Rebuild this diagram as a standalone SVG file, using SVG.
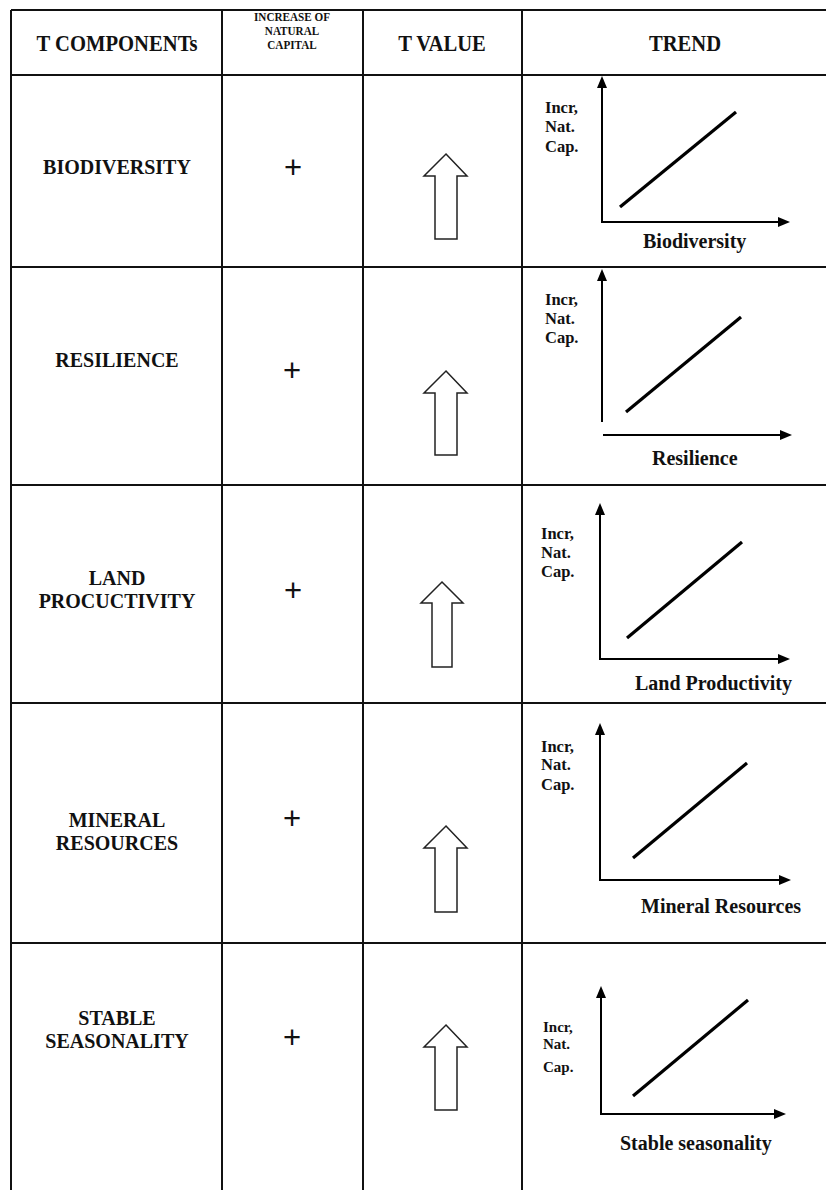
<svg xmlns="http://www.w3.org/2000/svg" width="826" height="1190" viewBox="0 0 826 1190">
  <style>
    .grid { stroke: #111; stroke-width: 2; fill: none; }
    .head { font-family: "Liberation Serif", "Times New Roman", serif; font-weight: bold; font-size: 24px; fill: #111; text-anchor: middle; }
    .head-sm { font-family: "Liberation Serif", "Times New Roman", serif; font-weight: bold; font-size: 13px; fill: #111; text-anchor: middle; }
    .comp { font-family: "Liberation Serif", "Times New Roman", serif; font-weight: bold; font-size: 20px; fill: #111; text-anchor: middle; }
    .plus { font-family: "Liberation Sans", Arial, sans-serif; font-size: 31px; fill: #111; text-anchor: middle; }
    .tarrow { fill: #fff; stroke: #222; stroke-width: 1.5; stroke-linejoin: miter; }
    .axis { stroke: #000; stroke-width: 2; fill: none; }
    .tip { fill: #000; }
    .trend { stroke: #000; stroke-width: 3.2; stroke-linecap: butt; }
    .ylab { font-family: "Liberation Serif", "Times New Roman", serif; font-weight: bold; font-size: 16.5px; fill: #111; }
    .ylab5 { font-family: "Liberation Serif", "Times New Roman", serif; font-weight: bold; font-size: 15px; fill: #111; }
    .xlab { font-family: "Liberation Serif", "Times New Roman", serif; font-weight: bold; font-size: 20px; fill: #111; }
  </style>

  <rect width="826" height="1190" fill="#fff"/>

  <!-- table grid -->
  <g id="table-grid" class="grid">
    <line x1="11" y1="10" x2="826" y2="10"/>
    <line x1="11" y1="75" x2="826" y2="75"/>
    <line x1="11" y1="267" x2="826" y2="267"/>
    <line x1="11" y1="485" x2="826" y2="485"/>
    <line x1="11" y1="703" x2="826" y2="703"/>
    <line x1="11" y1="943" x2="826" y2="943"/>
    <line x1="11" y1="10" x2="11" y2="1190"/>
    <line x1="222" y1="10" x2="222" y2="1190"/>
    <line x1="363" y1="10" x2="363" y2="1190"/>
    <line x1="522" y1="10" x2="522" y2="1190"/>
  </g>

  <!-- header row (condensed heading type) -->
  <g id="header">
    <text class="head" transform="translate(117,51) scale(0.86,1)">T COMPONENTs</text>
    <text class="head-sm" transform="translate(292,21) scale(0.86,1)">INCREASE OF</text>
    <text class="head-sm" transform="translate(292,35) scale(0.86,1)">NATURAL</text>
    <text class="head-sm" transform="translate(292,49) scale(0.86,1)">CAPITAL</text>
    <text class="head" transform="translate(442,51) scale(0.86,1)">T VALUE</text>
    <text class="head" transform="translate(685,51) scale(0.86,1)">TREND</text>
  </g>

  <!-- row 1: biodiversity -->
  <g id="row-biodiversity">
    <text class="comp" x="117" y="174">BIODIVERSITY</text>
    <text class="plus" x="293" y="178">+</text>
    <path class="tarrow" d="M446,154 L467,176 L457,176 L457,239 L435,239 L435,176 L424,176 Z"/>
    <g class="chart">
      <polyline class="axis" points="602,87 602,222 779,222"/>
      <path class="tip" d="M597,88 L602,76 L607,88 Z"/>
      <path class="tip" d="M778,217 L790,222 L778,227 Z"/>
      <line class="trend" x1="620" y1="207" x2="736" y2="112"/>
      <text class="ylab" x="545" y="113">Incr,</text>
      <text class="ylab" x="545" y="132">Nat.</text>
      <text class="ylab" x="545" y="152">Cap.</text>
      <text class="xlab" x="643" y="248">Biodiversity</text>
    </g>
  </g>

  <!-- row 2: resilience -->
  <g id="row-resilience">
    <text class="comp" x="117" y="367">RESILIENCE</text>
    <text class="plus" x="292" y="381">+</text>
    <path class="tarrow" d="M446,371 L467,393 L457,393 L457,455 L435,455 L435,393 L424,393 Z"/>
    <g class="chart">
      <line class="axis" x1="602" y1="422" x2="602" y2="279"/>
      <path class="tip" d="M597,281 L602,269 L607,281 Z"/>
      <line class="axis" x1="603" y1="435" x2="781" y2="435"/>
      <path class="tip" d="M780,430 L792,435 L780,440 Z"/>
      <line class="trend" x1="626" y1="412" x2="741" y2="317"/>
      <text class="ylab" x="545" y="305">Incr,</text>
      <text class="ylab" x="545" y="324">Nat.</text>
      <text class="ylab" x="545" y="343">Cap.</text>
      <text class="xlab" x="652" y="465">Resilience</text>
    </g>
  </g>

  <!-- row 3: land productivity -->
  <g id="row-land">
    <text class="comp" x="117" y="585">LAND</text>
    <text class="comp" x="117" y="608">PROCUCTIVITY</text>
    <text class="plus" x="293" y="601">+</text>
    <path class="tarrow" d="M442,582 L463,603 L452,603 L452,667 L432,667 L432,603 L421,603 Z"/>
    <g class="chart">
      <polyline class="axis" points="600,514 600,659 779,659"/>
      <path class="tip" d="M595,515 L600,503 L605,515 Z"/>
      <path class="tip" d="M778,654 L790,659 L778,664 Z"/>
      <line class="trend" x1="627" y1="638" x2="742" y2="542"/>
      <text class="ylab" x="541" y="539">Incr,</text>
      <text class="ylab" x="541" y="558">Nat.</text>
      <text class="ylab" x="541" y="577">Cap.</text>
      <text class="xlab" x="635" y="690">Land Productivity</text>
    </g>
  </g>

  <!-- row 4: mineral resources -->
  <g id="row-mineral">
    <text class="comp" x="117" y="827">MINERAL</text>
    <text class="comp" x="117" y="850">RESOURCES</text>
    <text class="plus" x="292" y="829">+</text>
    <path class="tarrow" d="M446,826 L467,848 L457,848 L457,912 L435,912 L435,848 L424,848 Z"/>
    <g class="chart">
      <polyline class="axis" points="600,734 600,880 780,880"/>
      <path class="tip" d="M595,735 L600,723 L605,735 Z"/>
      <path class="tip" d="M779,875 L791,880 L779,885 Z"/>
      <line class="trend" x1="633" y1="858" x2="747" y2="763"/>
      <text class="ylab" x="541" y="752">Incr,</text>
      <text class="ylab" x="541" y="770">Nat.</text>
      <text class="ylab" x="541" y="790">Cap.</text>
      <text class="xlab" x="641" y="913">Mineral Resources</text>
    </g>
  </g>

  <!-- row 5: stable seasonality -->
  <g id="row-seasonality">
    <text class="comp" x="117" y="1025">STABLE</text>
    <text class="comp" x="117" y="1048">SEASONALITY</text>
    <text class="plus" x="292" y="1048">+</text>
    <path class="tarrow" d="M446,1025 L467,1047 L457,1047 L457,1110 L435,1110 L435,1047 L424,1047 Z"/>
    <g class="chart">
      <polyline class="axis" points="601,997 601,1114 775,1114"/>
      <path class="tip" d="M596,998 L601,986 L606,998 Z"/>
      <path class="tip" d="M774,1109 L786,1114 L774,1119 Z"/>
      <line class="trend" x1="633" y1="1096" x2="748" y2="1000"/>
      <text class="ylab5" x="543" y="1032">Incr,</text>
      <text class="ylab5" x="543" y="1049">Nat.</text>
      <text class="ylab5" x="543" y="1072">Cap.</text>
      <text class="xlab" x="620" y="1150">Stable seasonality</text>
    </g>
  </g>
</svg>
